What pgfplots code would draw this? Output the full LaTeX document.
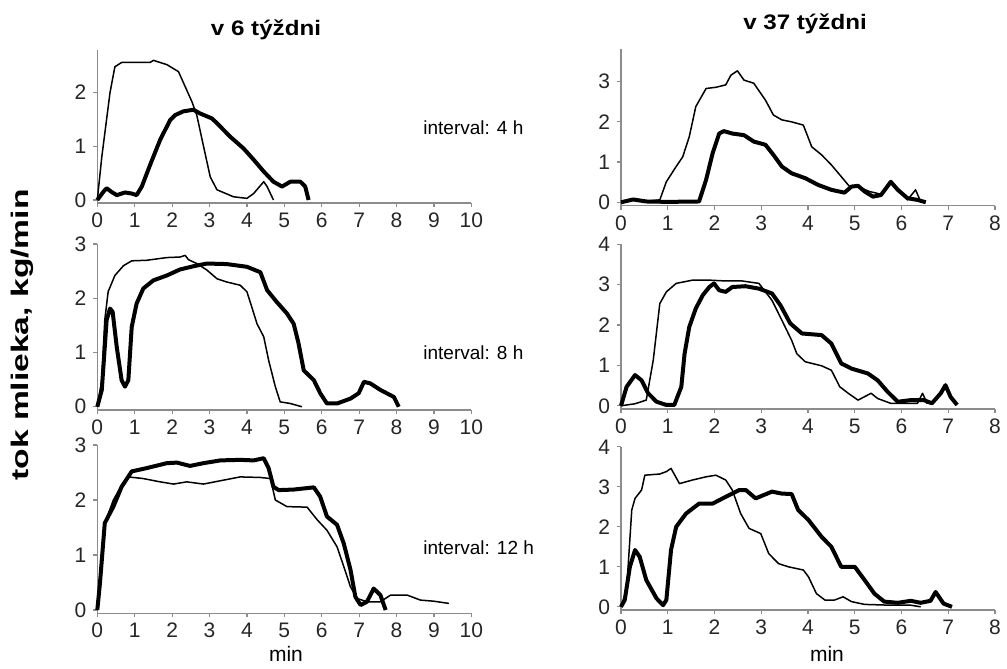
\documentclass[border=0pt]{standalone}
\usepackage{pgfplots}
\pgfplotsset{compat=1.18}
\usepackage{fontspec}
\setmainfont{Liberation Sans}
\definecolor{axgray}{gray}{0.55}
\definecolor{thin}{gray}{0.2}
\pgfplotsset{
  panel/.style={
    scale only axis, width=187pt,
    axis x line*=bottom, axis y line*=left,
    axis line style={axgray, line width=0.8pt},
    tick style={axgray, line width=0.6pt},
    major tick length=2pt,
    tick align=outside,
    ticklabel style={font=\fontsize{10.5}{12}\selectfont, text=black!85},
    xticklabel style={text height=7.6pt, text depth=0pt, inner sep=2.5pt},
    /pgf/number format/assume math mode=true,
    clip=false,
  },
  thinl/.style={thin, line width=0.75pt, line join=round},
  thickl/.style={black, line width=2pt, line join=round},
}
\begin{document}
\begin{tikzpicture}
\path (0,0) rectangle (503.5pt,-332pt);
% Row 1 left
\begin{axis}[panel, at={(48.65pt,-101.6pt)}, anchor=south west, height=76.8pt,
  xmin=0, xmax=10, ymin=-0.06, ymax=2.8, xtick={0,...,10}, ytick={0,1,2}]
\addplot[thinl] coordinates {(0,0) (0.12,0.8) (0.34,2.0) (0.47,2.48) (0.65,2.56) (1.0,2.56) (1.41,2.56) (1.5,2.6) (1.86,2.52) (2.17,2.39) (2.35,2.11) (2.53,1.83) (2.66,1.58) (2.84,1.0) (3.02,0.43) (3.2,0.19) (3.64,0.06) (4.0,0.03) (4.18,0.12) (4.45,0.34) (4.54,0.25) (4.71,0)};
\addplot[thickl] coordinates {(0,0) (0.16,0.15) (0.25,0.22) (0.38,0.15) (0.52,0.09) (0.74,0.14) (0.92,0.12) (1.05,0.09) (1.19,0.25) (1.41,0.65) (1.68,1.12) (1.95,1.49) (2.08,1.58) (2.3,1.65) (2.57,1.68) (2.75,1.61) (3.06,1.52) (3.2,1.43) (3.55,1.18) (3.91,0.96) (4.18,0.75) (4.45,0.53) (4.71,0.34) (4.94,0.25) (5.16,0.34) (5.43,0.34) (5.56,0.25) (5.65,0)};
\end{axis}
% Row 1 right
\begin{axis}[panel, at={(310.5pt,-102.75pt)}, anchor=south west, height=78pt,
  xmin=0, xmax=8, ymin=-0.08, ymax=3.8, xtick={0,...,8}, ytick={0,1,2,3}]
\addplot[thinl] coordinates {(0,0) (0.26,0.07) (0.54,0.03) (0.83,0.06) (0.97,0.51) (1.18,0.89) (1.32,1.13) (1.46,1.63) (1.6,2.38) (1.82,2.83) (2.03,2.86) (2.24,2.92) (2.35,3.16) (2.49,3.27) (2.63,3.04) (2.84,2.96) (3.09,2.54) (3.26,2.17) (3.44,2.05) (3.65,2.0) (3.9,1.92) (4.08,1.38) (4.29,1.18) (4.5,0.93) (4.71,0.64) (4.89,0.39) (5.07,0.39) (5.31,0.27) (5.56,0.2) (5.77,0.51) (5.99,0.22) (6.13,0.06) (6.3,0.31) (6.41,0.02)};
\addplot[thickl] coordinates {(0,0) (0.26,0.07) (0.54,0.02) (1.0,0.01) (1.67,0.02) (1.82,0.56) (1.96,1.22) (2.1,1.71) (2.2,1.77) (2.38,1.71) (2.63,1.67) (2.84,1.51) (3.09,1.43) (3.26,1.18) (3.44,0.89) (3.65,0.72) (3.94,0.6) (4.22,0.43) (4.5,0.31) (4.78,0.24) (4.93,0.39) (5.07,0.41) (5.21,0.27) (5.39,0.14) (5.56,0.18) (5.67,0.35) (5.77,0.51) (5.92,0.31) (6.13,0.1) (6.34,0.06) (6.52,0)};
\end{axis}
% Row 2 left
\begin{axis}[panel, at={(48.65pt,-205pt)}, anchor=south west, height=83pt,
  xmin=0, xmax=10, ymin=-0.06, ymax=3, xtick={0,...,10}, ytick={0,1,2,3}]
\addplot[thinl] coordinates {(0,0) (0.12,0.49) (0.2,1.6) (0.29,2.12) (0.47,2.42) (0.7,2.6) (0.92,2.69) (1.32,2.7) (1.86,2.75) (2.21,2.76) (2.35,2.79) (2.44,2.71) (2.66,2.64) (2.93,2.52) (3.2,2.36) (3.46,2.3) (3.82,2.24) (4.0,2.12) (4.13,1.84) (4.27,1.53) (4.45,1.29) (4.58,0.86) (4.76,0.37) (4.89,0.09) (5.16,0.06) (5.47,0)};
\addplot[thickl] coordinates {(0,0) (0.12,0.31) (0.25,1.6) (0.34,1.81) (0.41,1.75) (0.52,1.1) (0.65,0.49) (0.74,0.37) (0.83,0.49) (0.92,1.47) (1.05,1.9) (1.23,2.18) (1.5,2.33) (1.86,2.42) (2.21,2.53) (2.57,2.59) (2.93,2.64) (3.46,2.63) (4.0,2.58) (4.36,2.48) (4.54,2.15) (4.8,1.93) (5.07,1.72) (5.25,1.53) (5.38,1.17) (5.52,0.67) (5.79,0.49) (5.96,0.25) (6.14,0.06) (6.41,0.06) (6.77,0.15) (6.99,0.25) (7.13,0.46) (7.3,0.43) (7.57,0.31) (7.93,0.18) (8.06,0)};
\end{axis}
% Row 2 right
\begin{axis}[panel, at={(310.5pt,-204.5pt)}, anchor=south west, height=82.4pt,
  xmin=0, xmax=8, ymin=-0.08, ymax=4, xtick={0,...,8}, ytick={0,1,2,3,4}]
\addplot[thinl] coordinates {(0,0) (0.3,0.05) (0.54,0.14) (0.69,1.13) (0.83,2.53) (0.97,2.82) (1.18,3.03) (1.53,3.11) (1.89,3.11) (2.24,3.09) (2.59,3.09) (2.95,3.03) (3.23,2.61) (3.44,2.12) (3.65,1.62) (3.76,1.29) (3.94,1.09) (4.29,0.99) (4.5,0.88) (4.68,0.47) (4.86,0.31) (5.07,0.14) (5.35,0.31) (5.49,0.18) (5.77,0.06) (5.99,0.06) (6.34,0.06) (6.45,0.31) (6.55,0.05)};
\addplot[thickl] coordinates {(0,0) (0.12,0.47) (0.3,0.76) (0.44,0.63) (0.58,0.31) (0.76,0.1) (0.97,0.02) (1.14,0.02) (1.29,0.47) (1.36,1.29) (1.46,1.95) (1.6,2.41) (1.75,2.74) (1.89,2.94) (1.99,3.03) (2.1,2.86) (2.24,2.82) (2.38,2.94) (2.66,2.96) (2.95,2.9) (3.23,2.78) (3.41,2.49) (3.62,2.04) (3.87,1.79) (4.29,1.75) (4.5,1.54) (4.71,1.05) (4.93,0.92) (5.28,0.8) (5.49,0.63) (5.7,0.35) (5.92,0.1) (6.2,0.14) (6.48,0.14) (6.65,0.06) (6.84,0.31) (6.94,0.51) (7.05,0.22) (7.19,0.02)};
\end{axis}
% Row 3 left
\begin{axis}[panel, at={(48.65pt,-306.65pt)}, anchor=south west, height=84.15pt,
  xmin=0, xmax=10, ymin=-0.06, ymax=3, xtick={0,...,10}, ytick={0,1,2,3}]
\addplot[thinl] coordinates {(0,0) (0.07,0.61) (0.2,1.58) (0.43,2.0) (0.65,2.27) (0.83,2.42) (1.23,2.39) (1.68,2.33) (2.04,2.29) (2.39,2.33) (2.84,2.29) (3.29,2.35) (3.82,2.42) (4.36,2.41) (4.63,2.39) (4.76,2.0) (5.07,1.88) (5.61,1.87) (5.88,1.64) (6.14,1.45) (6.41,1.15) (6.59,0.79) (6.77,0.42) (6.95,0.21) (7.21,0.15) (7.57,0.15) (7.84,0.27) (8.29,0.27) (8.64,0.18) (9.0,0.16) (9.4,0.12)};
\addplot[thickl] coordinates {(0,0) (0.07,0.48) (0.2,1.58) (0.43,1.88) (0.65,2.24) (0.92,2.52) (1.32,2.58) (1.86,2.67) (2.13,2.68) (2.48,2.62) (2.84,2.67) (3.29,2.72) (3.82,2.73) (4.18,2.72) (4.45,2.76) (4.58,2.58) (4.71,2.24) (4.85,2.18) (5.25,2.19) (5.79,2.23) (5.96,2.06) (6.14,1.7) (6.41,1.55) (6.59,1.21) (6.77,0.73) (6.9,0.24) (7.04,0.09) (7.21,0.15) (7.39,0.39) (7.57,0.27) (7.71,0)};
\end{axis}
% Row 3 right
\begin{axis}[panel, at={(310.5pt,-305pt)}, anchor=south west, height=81.6pt,
  xmin=0, xmax=8, ymin=-0.08, ymax=4, xtick={0,...,8}, ytick={0,1,2,3,4}]
\addplot[thinl] coordinates {(0,0) (0.12,0.42) (0.23,2.42) (0.3,2.71) (0.44,2.92) (0.51,3.29) (0.83,3.32) (0.97,3.38) (1.07,3.46) (1.25,3.08) (1.53,3.17) (1.82,3.25) (2.03,3.29) (2.24,3.17) (2.38,2.92) (2.56,2.33) (2.74,1.96) (2.99,1.83) (3.16,1.33) (3.37,1.08) (3.58,1.0) (3.9,0.92) (4.01,0.75) (4.18,0.33) (4.36,0.17) (4.57,0.17) (4.75,0.25) (4.93,0.13) (5.21,0.06) (5.77,0.04) (6.2,0.04) (6.41,0)};
\addplot[thickl] coordinates {(0,0) (0.08,0.17) (0.19,1.0) (0.3,1.42) (0.4,1.25) (0.54,0.67) (0.76,0.21) (0.9,0.04) (0.97,0.17) (1.07,1.42) (1.18,2.0) (1.39,2.33) (1.67,2.58) (1.96,2.58) (2.24,2.75) (2.53,2.92) (2.67,2.92) (2.88,2.71) (3.23,2.88) (3.44,2.83) (3.65,2.82) (3.79,2.42) (4.01,2.17) (4.29,1.75) (4.5,1.5) (4.71,1.0) (5.0,1.0) (5.21,0.67) (5.42,0.33) (5.63,0.13) (5.92,0.1) (6.2,0.15) (6.41,0.1) (6.62,0.15) (6.73,0.37) (6.8,0.25) (6.9,0.08) (7.08,0)};
\end{axis}
% Texts
\node[font=\fontsize{10.5}{12}\selectfont\bfseries] at (133pt,-15pt) {\scalebox{1.15}[1]{v 6 týždni}};
\node[font=\fontsize{10.5}{12}\selectfont\bfseries] at (402.5pt,-12pt) {\scalebox{1.15}[1]{v 37 týždni}};
\node[font=\fontsize{9.5}{11}\selectfont, anchor=west, inner sep=0pt] at (211.5pt,-64pt) {interval: 4 h};
\node[font=\fontsize{9.5}{11}\selectfont, anchor=west, inner sep=0pt] at (211.5pt,-176.5pt) {interval: 8 h};
\node[font=\fontsize{9.5}{11}\selectfont, anchor=west, inner sep=0pt] at (211.5pt,-274pt) {interval: 12 h};
\node[font=\fontsize{10.5}{12}\selectfont] at (143pt,-327pt) {min};
\node[font=\fontsize{10.5}{12}\selectfont] at (413.5pt,-327pt) {min};
\node[font=\fontsize{12}{14}\selectfont\bfseries, rotate=90] at (11pt,-167.5pt) {\scalebox{1.4}[1]{tok mlieka, kg/min}};
\end{tikzpicture}
\end{document}
